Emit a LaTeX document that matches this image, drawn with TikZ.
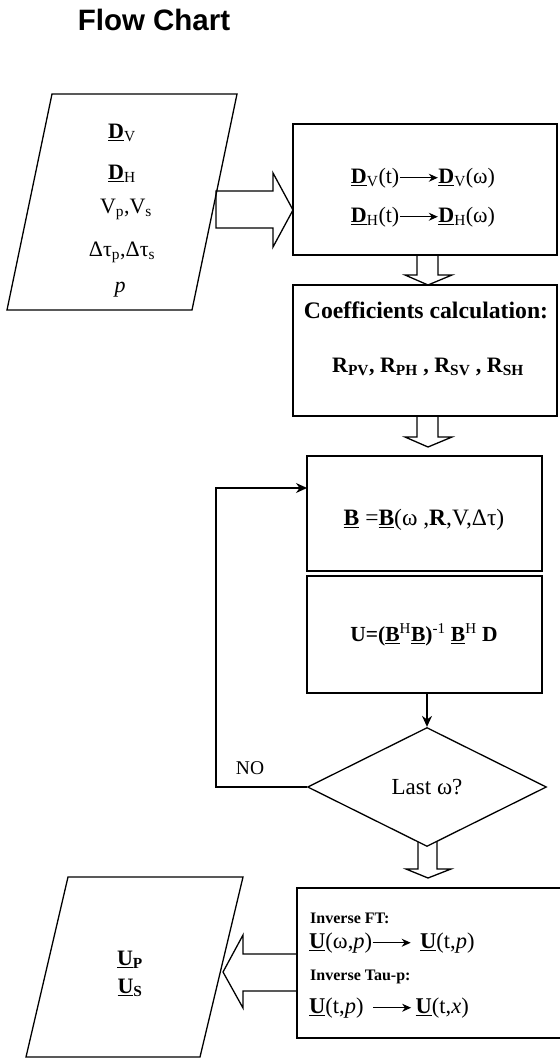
\documentclass[tikz,border=0pt]{standalone}
\usepackage{fontspec}
\setmainfont{Liberation Serif}
\setsansfont{Liberation Sans}
\usetikzlibrary{shapes.geometric,arrows.meta,calc}
\newcommand\ubf[1]{\underline{\textbf{#1}}}
\newcommand\fs[1]{\fontsize{#1}{#1}\selectfont}
\newcommand\sbs[1]{\textsubscript{#1}}
\newcommand\sps[1]{\textsuperscript{#1}}
\newcommand\tarrow[1]{\tikz[baseline=-0.55ex]\draw[line width=1.1pt,-{Stealth[length=9pt,width=8pt]}] (0pt,0pt) -- (#1,0pt);}
\begin{document}
\begin{tikzpicture}[x=1pt,y=-1pt,
  shp/.style={draw=black,line width=1.3pt,line join=miter},
  boxn/.style={draw=black,line width=1.3pt,rectangle,inner sep=0pt},
  txt/.style={inner sep=0pt,font=\fs{22}},
  arr/.style={draw=black,line width=1.3pt,-{Stealth[length=11pt,width=10pt]}},
  blk/.style={draw=black,line width=1.3pt,line join=miter}]
\useasboundingbox (0,0) rectangle (559,1059);
\fill[white] (0,0) rectangle (559,1059);

% title
\node[inner sep=0pt,font=\sffamily\bfseries\fs{29.5}] (title) at (154,20) {Flow Chart};

% input parallelogram
\draw[shp] (52,94) coordinate (inTL) -- (237,94) coordinate (inTR) -- (192,310) coordinate (inBR) -- (7,310) coordinate (inBL) -- cycle;
\node[txt] (dv) at (122,133) {\ubf{D}\sbs{V}};
\node[txt] (dh) at (122,174) {\ubf{D}\sbs{H}};
\node[txt] (vps) at (126,209) {V\sbs{p},V\sbs{s}};
\node[txt] (dtau) at (122,252) {Δτ\sbs{p},Δτ\sbs{s}};
\node[txt] (pp) at (120,290) {\textit{p}};

% box 1
\node[boxn,minimum width=264pt,minimum height=131pt] (b1) at (425,189.5) {};
\node[txt] (l1) at (423,178) {\ubf{D}\sbs{V}(t)\tarrow{38pt}\ubf{D}\sbs{V}(ω)};
\node[txt] (l2) at (423,217) {\ubf{D}\sbs{H}(t)\tarrow{38pt}\ubf{D}\sbs{H}(ω)};

% box 2
\node[boxn,minimum width=264pt,minimum height=131pt] (b2) at (425,350.5) {};
\node[txt,font=\bfseries\fs{23.7}] (coef) at (426,310) {Coefficients calculation:};
\node[txt] (rs) at (428,367) {\textbf{R\sbs{PV}, R\sbs{PH} , R\sbs{SV} , R\sbs{SH}}};

% box 3
\node[boxn,minimum width=235pt,minimum height=115pt] (b3) at (424.5,513.5) {};
\node[txt,font=\fs{23.5}] (beq) at (424,520) {\ubf{B} =\ubf{B}(ω ,\textbf{R},V,Δτ)};

% box 4
\node[boxn,minimum width=235pt,minimum height=117pt] (b4) at (424.5,634.5) {};
\node[txt,font=\fs{21.5}] (ueq) at (424,635) {\textbf{U=(}\ubf{B}\sps{H}\ubf{B}\textbf{)}\sps{-1} \ubf{B}\sps{H} \textbf{D}};

% decision
\node[shp,diamond,inner sep=0pt,minimum width=239pt,minimum height=119pt,font=\fs{23}] (dia) at (427,787) {Last ω?};
\node[inner sep=0pt,font=\fs{19.5}] (no) at (250,768) {NO};

% box 5
\node[boxn,minimum width=268pt,minimum height=150pt] (b5) at (431,963) {};
\node[txt,font=\bfseries\fs{16},anchor=west] (ift) at (310,918) {Inverse FT:};
\node[txt,font=\fs{22.5},anchor=west] (u1) at (309,943) {\ubf{U}(ω,\textit{p})\tarrow{38pt}\hspace{9pt}\ubf{U}(t,\textit{p})};
\node[txt,font=\bfseries\fs{16},anchor=west] (itp) at (310,977) {Inverse Tau-p:};
\node[txt,font=\fs{22.5},anchor=west] (u2) at (309,1008) {\ubf{U}(t,\textit{p})\hspace{9pt}\tarrow{38pt}\hspace{4pt}\ubf{U}(t,\textit{x})};

% output parallelogram
\draw[shp] (68,877) coordinate (outTL) -- (243,877) coordinate (outTR) -- (200,1057) coordinate (outBR) -- (26,1057) coordinate (outBL) -- cycle;
\node[txt] (up) at (130,960) {\ubf{U}\textsubscript{\textbf{P}}};
\node[txt] (us) at (130,988) {\ubf{U}\textsubscript{\textbf{S}}};

% block arrows
\draw[blk] (216,191) -- (273,191) -- (273,173) -- (293,210) -- (273,247) -- (273,228) -- (216,228) -- cycle;
\draw[blk] (417,255) -- (417,275) -- (405,275) -- (428,285) -- (452,275) -- (438,275) -- (438,255);
\draw[blk] (417,416) -- (417,437) -- (405,437) -- (428,447) -- (452,437) -- (438,437) -- (438,416);
\draw[blk] (418,842) -- (418,869) -- (406,869) -- (428,878) -- (451,869) -- (437,869) -- (437,842);
\draw[blk] (297,954) -- (243,954) -- (243,935) -- (223,972) -- (243,1008) -- (243,991) -- (297,991);

% connectors
\coordinate (loopc) at (216,787);
\coordinate (loopin) at (307,488);
\draw[arr] (dia.west) -- (loopc) |- (loopin);
\draw[arr] (b4.south -| dia.north) -- (dia.north);
\end{tikzpicture}
\end{document}
